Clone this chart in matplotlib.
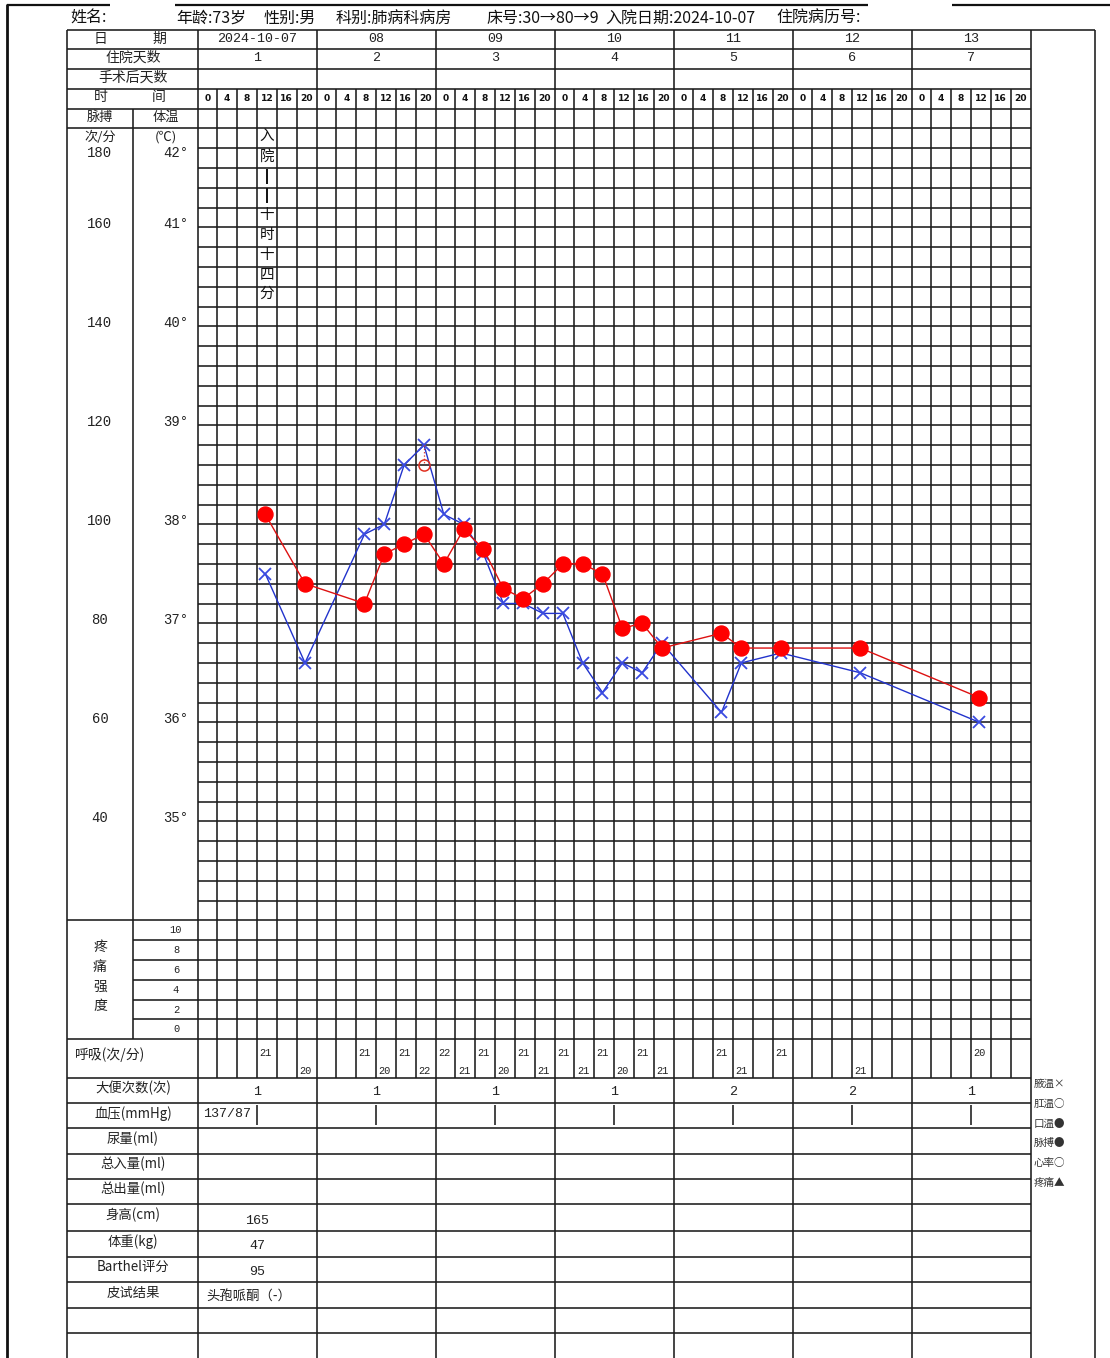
import matplotlib
matplotlib.use('Agg')
import matplotlib.pyplot as plt

# ---------------- data ----------------
dates = ['2024-10-07', '08', '09', '10', '11', '12', '13']
stay_days = ['1', '2', '3', '4', '5', '6', '7']
hours = ['0', '4', '8', '12', '16', '20']

obs_day = [0, 0, 1, 1, 1, 1, 2, 2, 2, 2, 2, 2, 3, 3, 3, 3, 3, 3, 4, 4, 4, 5, 6]
obs_hour = [12, 20, 8, 12, 16, 20, 0, 4, 8, 12, 16, 20, 0, 4, 8, 12, 16, 20, 8, 12, 20, 12, 12]
temperature = [37.5, 36.6, 37.9, 38.0, 38.6, 38.8, 38.1, 38.0, 37.7, 37.2, 37.2, 37.1,
               37.1, 36.6, 36.3, 36.6, 36.5, 36.8, 36.1, 36.6, 36.7, 36.5, 36.0]
pulse = [102, 88, 84, 94, 96, 98, 92, 99, 95, 87, 85, 88,
         92, 92, 90, 79, 80, 75, 78, 75, 75, 75, 65]
respiration = [21, 20, 21, 20, 21, 22, 22, 21, 21, 20, 21, 21,
               21, 21, 21, 20, 21, 21, 21, 21, 21, 21, 20]
cool_day, cool_hour, cool_temp = 1, 20, 38.6
stool = ['1', '1', '1', '1', '2', '2', '1']
bp_text = '137/87'
height_cm, weight_kg, barthel, skin_test = '165', '47', '95', '头孢哌酮（-）'
pulse_ticks = [160, 140, 120, 100, 80, 60, 40]
temp_ticks = [41, 40, 39, 38, 37, 36, 35]
pain_ticks = ['10', '8', '6', '4', '2', '0']
pain_label = ['疼', '痛', '强', '度']
row_labels = ['大便次数(次)', '血压(mmHg)', '尿量(ml)', '总入量(ml)', '总出量(ml)',
              '身高(cm)', '体重(kg)', 'Barthel评分', '皮试结果', '', '']
legend_items = ['腋温×', '肛温○', '口温●', '脉搏●', '心率○', '疼痛▲']
admit_note = ['入', '院', '|', '|', '十', '时', '十', '四', '分']
header_items = ['姓名:', '年龄:73岁', '性别:男', '科别:肺病科病房', '床号:30→80→9',
                '入院日期:2024-10-07', '住院病历号:']

# ---------------- layout ----------------
W, H = 1110, 1358
fig = plt.figure(figsize=(W / 100, H / 100), dpi=100)
bg = fig.add_axes([0, 0, 1, 1])
bg.set_xlim(0, W)
bg.set_ylim(H, 0)
bg.axis('off')

CJK = ['Noto Sans CJK SC', 'DejaVu Sans']
MONO = ['Liberation Mono', 'DejaVu Sans Mono']
LC = '#1c1c1c'
LW = 1.15
TC = '#222222'

L, C1, GX0, GX1, R = 67, 133, 197.5, 1030.5, 1095
NC = 42
CW = (GX1 - GX0) / NC
hdr = [30, 49, 68.5, 88.5, 108.5]
TOP, BOT = 128.3, 920.3
RH = (BOT - TOP) / 40
PAIN_BOT = 1039.3
RESP_BOT = 1078.3
lower = [1078.3, 1103.3, 1128.3, 1154, 1179.3, 1204.3, 1230.7, 1256.7, 1282.3, 1307.7, 1332.7, H + 5]


def hl(y, x0, x1, lw=LW, c=LC):
    bg.plot([x0, x1], [y, y], color=c, lw=lw, solid_capstyle='butt')


def vl(x, y0, y1, lw=LW, c=LC):
    bg.plot([x, x], [y0, y1], color=c, lw=lw, solid_capstyle='butt')


def txt(x, y, s, size=10, ha='center', fam=CJK, **kw):
    bg.text(x, y, s, fontsize=size, ha=ha, va='center', family=fam,
            color=kw.pop('color', TC), **kw)


def colx(i):
    return GX0 + i * CW


# outer frame
vl(7, 4, H, lw=2.0, c='#111111')
hl(5, 7, 110, lw=1.6, c='#111111')
hl(5, 175, 868, lw=1.6, c='#111111')
hl(5, 952, W, lw=1.6, c='#111111')

# header text
header_x = [70, 176, 264, 336, 486, 605, 776]
for s, x in zip(header_items, header_x):
    txt(x, 18, s, size=11.5, ha='left', color='#111111')

# table borders
hl(hdr[0], L, R)
for y in hdr[1:]:
    hl(y, L, GX1)
hl(TOP, L, GX1)
for k in range(1, 40):
    hl(TOP + k * RH, GX0, GX1)
hl(BOT, L, GX1)
PRH = (PAIN_BOT - BOT) / 6
for k in range(1, 6):
    hl(BOT + k * PRH, C1, GX1)
hl(PAIN_BOT, L, GX1)
for y in lower[:-1]:
    hl(y, L, GX1)

vl(L, hdr[0], H)
vl(R, hdr[0], H)
vl(C1, hdr[4], PAIN_BOT)
for i in range(NC + 1):
    if i % 6 == 0:
        vl(colx(i), hdr[0], H)
    else:
        vl(colx(i), hdr[3], RESP_BOT)

# left header labels
txt(101, 38.5, '日', 10)
txt(159, 38.5, '期', 10)
txt(133, 58, '住院天数', 10)
txt(133, 77.5, '手术后天数', 10)
txt(101, 97.5, '时', 10)
txt(159, 97.5, '间', 10)
txt(100, 117.5, '脉搏', 9.5)
txt(166, 117.5, '体温', 9.5)

# day / stay-day labels
for d in range(7):
    xc = colx(d * 6 + 3)
    txt(xc, 38.5, dates[d], 9.6, fam=MONO)
    txt(xc, 58, stay_days[d], 9.6, fam=MONO)
    for j, h in enumerate(hours):
        txt(colx(d * 6 + j + 0.5), 98.5, h, 6.6, fam=['DejaVu Sans'], weight='bold', color='#111111')

# axis labels
txt(100, 137, '次/分', 9.5)
txt(166, 137, '(℃)', 9.5)
txt(100, 153, '180', 10, fam=MONO)
txt(188, 153, '42°', 10, ha='right', fam=MONO)
for p, t in zip(pulse_ticks, temp_ticks):
    y = TOP + (42 - t) * 5 * RH - 3.5
    txt(100, y, str(p), 10, fam=MONO)
    txt(188, y, f'{t}°', 10, ha='right', fam=MONO)

# pain section
for k, s in enumerate(pain_ticks):
    txt(176, BOT + (k + 0.5) * PRH, s, 7.5, fam=MONO)
for k, s in enumerate(pain_label):
    txt(100, 947 + k * 19.7, s, 10)

# respiration
txt(75, 1055, '呼吸(次/分)', 10, ha='left')
for k, (d, h, v) in enumerate(zip(obs_day, obs_hour, respiration)):
    i = d * 6 + h // 4
    y = 1053 if k % 2 == 0 else 1071
    txt(colx(i) + 2.5, y, str(v), 7.4, ha='left', fam=MONO)

# lower rows
for k, s in enumerate(row_labels):
    if s:
        txt(133, (lower[k] + lower[k + 1]) / 2 - 2.5, s, 9.6)
for d in range(7):
    txt(colx(d * 6 + 3), 1092, stool[d], 9.6, fam=MONO)
    vl(colx(d * 6 + 3), lower[1] + 2, lower[2] - 3)
txt(203, 1114, bp_text, 9.6, ha='left', fam=MONO)
txt(colx(3), 1221, height_cm, 9.6, fam=MONO)
txt(colx(3), 1246, weight_kg, 9.6, fam=MONO)
txt(colx(3), 1272, barthel, 9.6, fam=MONO)
txt(206, 1297, skin_test, 9.6, ha='left')

# legend
for k, s in enumerate(legend_items):
    txt(1034, 1084 + k * 19.8, s, 7.6, ha='left', color='#333333')

# admission note (vertical)
for k, s in enumerate(admit_note):
    y = 137 + k * 19.6
    if s == '|':
        vl(colx(3.5), y - 7.5, y + 7.5, lw=1.4, c='#111111')
    else:
        txt(colx(3.5), y, s, 10.5, color='#111111')

# ---------------- chart ----------------
ax = fig.add_axes([GX0 / W, 1 - BOT / H, (GX1 - GX0) / W, (BOT - TOP) / H])
ax.set_xlim(0, NC)
ax.set_ylim(34, 42)
ax.axis('off')
ax2 = ax.twinx()
ax2.set_ylim(20, 180)
ax2.axis('off')

xs = [d * 6 + h / 4 + 0.42 for d, h in zip(obs_day, obs_hour)]
ax.plot(xs, temperature, color='#2233cc', lw=1.0, marker='x', ms=8, mew=1.3,
        mec='#3a4be0', zorder=3)
cx = cool_day * 6 + cool_hour / 4 + 0.42
peak = [t for d, h, t in zip(obs_day, obs_hour, temperature) if d == cool_day and h == cool_hour][0]
ax.plot([cx, cx], [peak, cool_temp], color='#e03020', lw=0.9, ls=':', zorder=3)
ax.plot([cx], [cool_temp], marker='o', ms=8, mfc='none', mec='#e03020', mew=1.1, zorder=3)
ax2.plot(xs, pulse, color='#dd1111', lw=1.0, marker='o', ms=10.8, mfc='#ff0000',
         mec='#ff0000', zorder=4)

fig.savefig('out.png', dpi=100)
